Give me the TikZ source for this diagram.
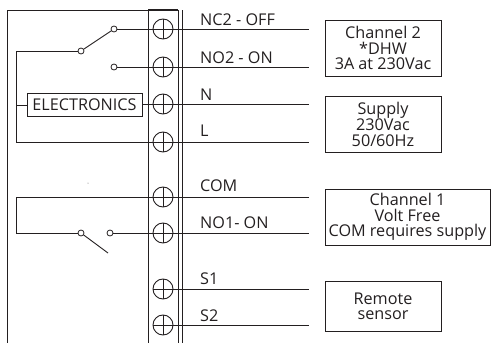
\documentclass[tikz,border=0pt]{standalone}
\usepackage{fontspec}
\setmainfont{Open Sans}
\definecolor{ink}{HTML}{231F20}
\tikzset{
  wire/.style={draw=ink,line width=0.9pt},
  term/.style={circle,draw=ink,line width=0.9pt,minimum size=20pt,inner sep=0pt,
    path picture={\draw[ink,line width=0.8pt] (path picture bounding box.north)--(path picture bounding box.south)
      (path picture bounding box.west)--(path picture bounding box.east);}},
  contact/.style={circle,draw=ink,fill=white,line width=0.8pt,minimum size=6pt,inner sep=0pt},
  rbox/.style={draw=ink,line width=1pt,minimum width=116pt,align=center,inner sep=0pt,text=ink,
    font=\fontsize{16.2}{15.4}\selectfont},
  lab/.style={anchor=base west,inner sep=0pt,text=ink,font=\fontsize{16.2}{16}\selectfont}
}
\begin{document}
\begin{tikzpicture}[x=1pt,y=-1pt]
\useasboundingbox (0,0) rectangle (491,343);
% housing and terminal strip
\draw[wire] (7,343)--(7,10)--(178,10);
\draw[draw=ink,line width=1.2pt] (148,10)--(178,10);
\draw[wire] (148,10)--(148,343);
\draw[wire] (178,10)--(178,343);
\draw[wire] (182,10)--(182,343);
% terminals
\foreach \n/\y in {t1/29,t2/67,t3/104,t4/142,t5/197,t6/233,t7/289,t8/325}
  \node[term] (\n) at (163,\y) {};
% free ends
\foreach \n/\y in {e1/29,e2/67,e3/104,e4/142,e5/197,e6/233,e7/289,e8/325}
  \coordinate (\n) at (309,\y);
\coordinate (bus1) at (16,51);
\coordinate (bus2) at (16,105);
\coordinate (bus3) at (16,142);
\coordinate (bus4) at (16,197);
\coordinate (bus5) at (16,233);
\coordinate (blade) at (108,253);
% contacts
\node[contact] (p2) at (81,51) {};
\node[contact] (c21) at (114,29) {};
\node[contact] (c22) at (114,67) {};
\node[contact] (p1) at (81,233) {};
\node[contact] (c11) at (110,233) {};
% electronics
\node[draw=ink,line width=1pt,minimum width=115pt,minimum height=23pt,inner sep=0pt,text=ink,
  font=\fontsize{16.2}{16}\selectfont] (el) at (84.5,105) {ELECTRONICS};
% wiring
\draw[wire] (c21)--(e1);
\draw[wire] (c22)--(e2);
\draw[wire] (el.east |- e3)--(e3);
\draw[wire] (bus2)--(bus2 -| el.west);
\draw[wire] (p2)--(bus1)--(bus3)--(e4);
\draw[wire] (p2)--(c21);
\draw[wire] (e5)--(bus4)--(bus5)--(p1);
\draw[wire] (c11)--(e6);
\draw[wire] (p1)--(blade);
\draw[wire] (t7.center)--(e7);
\draw[wire] (t8.center)--(e8);
% stray dot
\fill[ink!70] (88,183) circle (0.5pt);
% labels
\node[lab] at (200,25) {NC2 - OFF};
\node[lab] at (200,63) {NO2 - ON};
\node[lab] at (200,100) {N};
\node[lab] at (200,136) {L};
\node[lab] at (200,191) {COM};
\node[lab] at (200,228) {NO1- ON};
\node[lab] at (200,284) {S1};
\node[lab] at (200,321) {S2};
% right boxes
\node[rbox,minimum height=56pt] (b2) at (383,48) {Channel 2\\*DHW\\3A at 230Vac};
\node[rbox,minimum height=56pt] (b3) at (383,124) {Supply\\230Vac\\50/60Hz};
\node[rbox,minimum width=165pt,minimum height=56pt] (b1) at (407.5,217) {Channel 1\\Volt Free\\COM requires supply};
\node[rbox,minimum height=50pt] (b4) at (383,306) {Remote\\sensor};
\end{tikzpicture}
\end{document}
